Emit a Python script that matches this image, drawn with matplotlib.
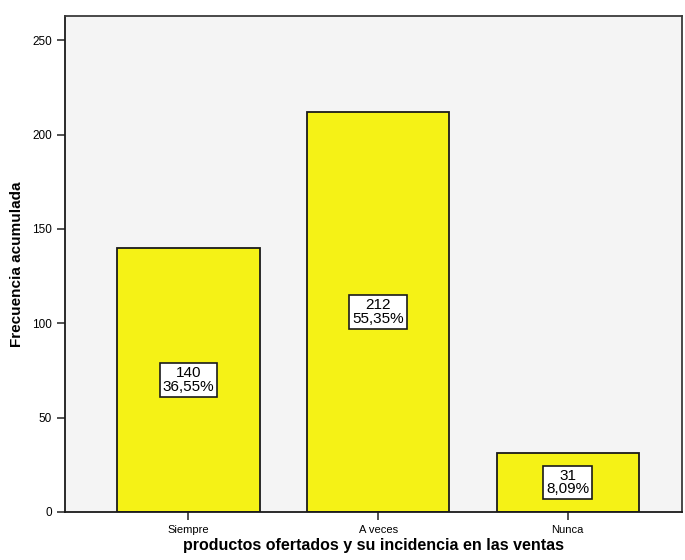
import matplotlib.pyplot as plt

# respuestas y frecuencias
categorias = ["Siempre", "A veces", "Nunca"]
frecuencias = [140, 212, 31]
porcentajes = ["36,55%", "55,35%", "8,09%"]
yticks = [0, 50, 100, 150, 200, 250]

plt.rcParams['font.family'] = ['Liberation Sans', 'DejaVu Sans']

fig = plt.figure(figsize=(6.85, 5.6), dpi=100)
fig.patch.set_facecolor('#FFFFFF')
ax = fig.add_axes([0.095, 0.086, 0.9, 0.886])
ax.set_facecolor('#F4F4F4')

x = list(range(len(categorias)))
ax.bar(x, frecuencias, width=0.75, color='#F5F216', edgecolor='#1A1A1A',
       linewidth=1.3, zorder=2)

# etiqueta con frecuencia y porcentaje en el centro de cada barra
for xi, f, p in zip(x, frecuencias, porcentajes):
    ax.text(xi, f / 2, f"{f}\n{p}", ha='center', va='center', fontsize=11,
            linespacing=0.95, zorder=3,
            bbox=dict(boxstyle='square,pad=0.2', facecolor='white',
                      edgecolor='#1A1A1A', linewidth=1.2))

ax.set_xlim(-0.65, 2.6)
ax.set_ylim(0, 263)
ax.set_xticks(x)
ax.set_xticklabels(categorias, fontsize=8)
ax.set_yticks(yticks)
ax.set_yticklabels([str(t) for t in yticks], fontsize=8.5)
ax.tick_params(axis='both', direction='out', length=6, width=1.1, color='#222222')

for side in ['left', 'bottom']:
    ax.spines[side].set_color('#1A1A1A')
    ax.spines[side].set_linewidth(1.3)
for side in ['top', 'right']:
    ax.spines[side].set_color('#3A3A3A')
    ax.spines[side].set_linewidth(1.3)

ax.set_ylabel("Frecuencia acumulada", fontsize=11, fontweight='bold', labelpad=6)
ax.set_xlabel("productos ofertados y su incidencia en las ventas", fontsize=11.5,
              fontweight='bold', labelpad=2)

fig.savefig('out.png', dpi=100, facecolor='#FFFFFF')
